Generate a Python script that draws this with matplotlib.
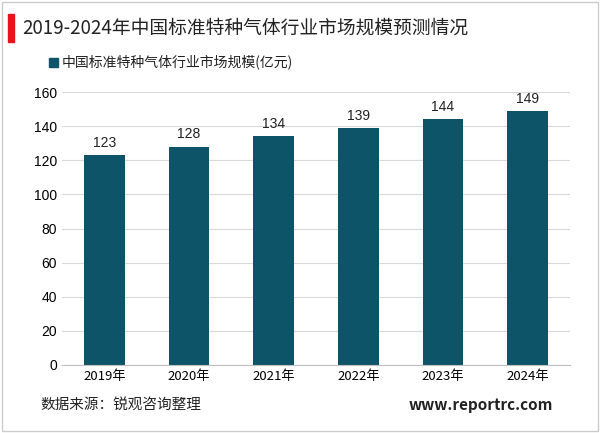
import matplotlib
matplotlib.use('Agg')
import matplotlib.pyplot as plt
from matplotlib.patches import Rectangle

plt.rcParams['font.family'] = ['Noto Sans CJK SC', 'DejaVu Sans']

years = ['2019年', '2020年', '2021年', '2022年', '2023年', '2024年']
values = [123, 128, 134, 139, 144, 149]
title = '2019-2024年中国标准特种气体行业市场规模预测情况'
legend_label = '中国标准特种气体行业市场规模(亿元)'

fig = plt.figure(figsize=(6, 4.33), dpi=100)
W, H = 600, 433
ax = fig.add_axes([62/W, 1-365/H, (570-62)/W, (365-92)/H])
color = '#0D5468'
bars = ax.bar(range(len(years)), values, width=0.48, color=color, label=legend_label)
for i, v in enumerate(values):
    ax.text(i, v + 3, str(v), ha='center', va='bottom', fontsize=10,
            family=['Liberation Sans'], color='#222222')
ax.set_ylim(0, 160)
ax.set_yticks(range(0, 161, 20))
ax.set_xlim(-0.5, len(years)-0.5)
ax.set_xticks(range(len(years)))
ax.set_xticklabels(years, fontsize=9.5)
for t in ax.get_yticklabels():
    t.set_family(['Liberation Sans'])
ax.tick_params(axis='y', labelsize=10, length=0)
ax.tick_params(axis='x', length=0)
ax.grid(axis='y', color='#d9d9d9', linewidth=0.8)
ax.set_axisbelow(True)
for s in ['top', 'right', 'left']:
    ax.spines[s].set_visible(False)
ax.spines['bottom'].set_color('#bfbfbf')

fig.patches.append(Rectangle((2/W, 2/H), 596/W, 429/H, transform=fig.transFigure,
                             fill=False, edgecolor='#cccccc', linewidth=1))
fig.patches.append(Rectangle((8/W, 1-42/H), 6/W, 28/H, transform=fig.transFigure,
                             color='#E8141B'))
fig.text(22/W, 1-28/H, title, fontsize=13.5, va='center', ha='left', color='#222222')
fig.patches.append(Rectangle((49/W, 1-67/H), 9/W, 9/H, transform=fig.transFigure, color=color))
fig.text(62/W, 1-62/H, legend_label, fontsize=10, va='center', ha='left', color='#222222')
fig.text(40/W, 1-405/H, '数据来源：锐观咨询整理', fontsize=10.5, va='center', ha='left', color='#222222')
fig.text(553/W, 1-405/H, 'www.reportrc.com', fontsize=11, fontweight='bold', va='center', ha='right', color='#222222')

fig.savefig('out.png', dpi=100)
